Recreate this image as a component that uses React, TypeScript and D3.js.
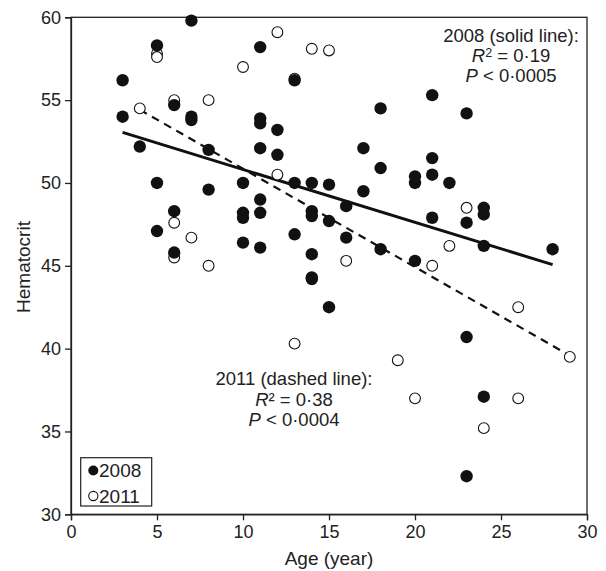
import React, { useEffect, useRef } from 'react';
import * as d3 from 'd3';

// 2008 sample (filled circles): [age, hematocrit]
const ages2008 = [3, 3, 4, 5, 5, 5, 6, 6, 6, 7, 7, 7, 8, 8, 10, 10, 10, 10, 11, 11, 11, 11, 11, 11, 11, 12, 12, 13, 13, 13, 14, 14, 14, 14, 14, 14, 15, 15, 15, 16, 16, 17, 17, 18, 18, 18, 20, 20, 20, 21, 21, 21, 21, 22, 23, 23, 23, 23, 24, 24, 24, 24, 28];
const hct2008 = [56.2, 54.0, 52.2, 58.3, 50.0, 47.1, 54.7, 48.3, 45.8, 59.8, 54.0, 53.8, 52.0, 49.6, 50.0, 48.2, 47.9, 46.4, 58.2, 53.9, 53.6, 52.1, 49.0, 48.2, 46.1, 53.2, 51.7, 56.2, 50.0, 46.9, 50.0, 48.3, 48.0, 45.7, 44.3, 44.2, 49.9, 47.7, 42.5, 48.6, 46.7, 52.1, 49.5, 54.5, 50.9, 46.0, 50.4, 50.0, 45.3, 55.3, 51.5, 50.5, 47.9, 50.0, 54.2, 47.6, 40.7, 32.3, 48.5, 48.1, 46.2, 37.1, 46.0];

// 2011 sample (open circles)
const ages2011 = [4, 5, 5, 6, 6, 6, 7, 8, 8, 10, 12, 12, 13, 13, 14, 15, 16, 19, 20, 21, 22, 23, 24, 26, 26, 29];
const hct2011 = [54.5, 57.8, 57.6, 55.0, 47.6, 45.5, 46.7, 55.0, 45.0, 57.0, 59.1, 50.5, 56.3, 40.3, 58.1, 58.0, 45.3, 39.3, 37.0, 45.0, 46.2, 48.5, 35.2, 42.5, 37.0, 39.5];

// regression lines, end points
const fit2008 = [[3, 53.05], [28, 45.07]];
const fit2011 = [[4, 54.42], [29, 39.58]];

const xTicks = [0, 5, 10, 15, 20, 25, 30];
const yTicks = [30, 35, 40, 45, 50, 55, 60];

const W = 606, H = 571;
const left = 71, right = 587, top = 17.3, bottom = 514.3;
const FONT = '"Liberation Sans", Arial, sans-serif';
const INK = '#222';

export default function App() {
	const ref = useRef<SVGSVGElement>(null);

	useEffect(() => {
		const svg = d3.select(ref.current);
		svg.selectAll('*').remove();

		const x = d3.scaleLinear().domain([0, 30]).range([left, right]);
		const y = d3.scaleLinear().domain([30, 60]).range([bottom, top]);

		// frame
		svg.append('rect')
			.attr('x', left).attr('y', top)
			.attr('width', right - left).attr('height', bottom - top)
			.attr('fill', 'none').attr('stroke', INK).attr('stroke-width', 1.3);

		// axes
		const xAxis = svg.append('g')
			.attr('transform', `translate(0,${bottom})`)
			.call(d3.axisBottom(x).tickValues(xTicks).tickSize(6).tickPadding(5));
		const yAxis = svg.append('g')
			.attr('transform', `translate(${left},0)`)
			.call(d3.axisLeft(y).tickValues(yTicks).tickSize(6).tickPadding(4));
		[xAxis, yAxis].forEach(a => {
			a.select('.domain').attr('stroke', INK).attr('stroke-width', 1.3);
			a.selectAll('line').attr('stroke', INK).attr('stroke-width', 1.3);
			a.selectAll('text').attr('fill', INK).attr('font-size', 18).attr('font-family', FONT);
		});

		// regression lines
		const line = d3.line<number[]>().x(d => x(d[0])).y(d => y(d[1]));
		svg.append('path').attr('d', line(fit2008))
			.attr('stroke', '#111').attr('stroke-width', 3).attr('fill', 'none');
		svg.append('path').attr('d', line(fit2011))
			.attr('stroke', '#111').attr('stroke-width', 2.2).attr('fill', 'none')
			.attr('stroke-dasharray', '8,6');

		// points
		svg.append('g').selectAll('circle')
			.data(d3.range(ages2011.length))
			.enter().append('circle')
			.attr('cx', i => x(ages2011[i]))
			.attr('cy', i => y(hct2011[i]))
			.attr('r', 5.4)
			.attr('fill', 'white').attr('stroke', '#111').attr('stroke-width', 1.1);
		svg.append('g').selectAll('circle')
			.data(d3.range(ages2008.length))
			.enter().append('circle')
			.attr('cx', i => x(ages2008[i]))
			.attr('cy', i => y(hct2008[i]))
			.attr('r', 6.2)
			.attr('fill', '#111');

		// axis titles
		svg.append('text')
			.attr('x', (left + right) / 2).attr('y', 565)
			.attr('text-anchor', 'middle')
			.attr('font-size', 19).attr('font-family', FONT).attr('fill', INK)
			.text('Age (year)');
		svg.append('text')
			.attr('transform', `translate(30,${267}) rotate(-90)`)
			.attr('text-anchor', 'middle')
			.attr('font-size', 19).attr('font-family', FONT).attr('fill', INK)
			.text('Hematocrit');

		// annotations
		const note = (cx, y0, head, r2, p, sup) => {
			const g = svg.append('g')
				.attr('font-size', 18.5).attr('font-family', FONT).attr('fill', INK)
				.attr('text-anchor', 'middle');
			g.append('text').attr('x', cx).attr('y', y0).text(head);
			const t2 = g.append('text').attr('x', cx).attr('y', y0 + 20.5);
			t2.append('tspan').attr('font-style', 'italic').text('R');
			if (sup) {
				t2.append('tspan').attr('font-size', 12.5).attr('dy', -5.5).text('2');
				t2.append('tspan').attr('dy', 5.5).text(' = ' + r2);
			} else {
				t2.append('tspan').text('² = ' + r2);
			}
			const t3 = g.append('text').attr('x', cx).attr('y', y0 + 40.5);
			t3.append('tspan').attr('font-style', 'italic').text('P');
			t3.append('tspan').text(' < ' + p);
		};
		note(511, 41.5, '2008 (solid line):', '0·19', '0·0005', true);
		note(294, 385, '2011 (dashed line):', '0·38', '0·0004', false);

		// legend
		const lg = svg.append('g');
		lg.append('rect')
			.attr('x', 80.7).attr('y', 457.7).attr('width', 71).attr('height', 48.3)
			.attr('fill', 'white').attr('stroke', INK).attr('stroke-width', 1.2);
		lg.append('circle').attr('cx', 93.3).attr('cy', 470.5).attr('r', 5).attr('fill', '#111');
		lg.append('circle').attr('cx', 93.3).attr('cy', 496).attr('r', 4.6)
			.attr('fill', 'white').attr('stroke', '#111').attr('stroke-width', 1.1);
		lg.selectAll('text.lab')
			.data(['2008', '2011'])
			.enter().append('text')
			.attr('x', 99).attr('y', (d, i) => 477 + i * 25.5)
			.attr('font-size', 19).attr('font-family', FONT).attr('fill', INK)
			.text(d => d);
	}, []);

	return (
		<div style={{ position: 'absolute', left: 0, top: 0 }}>
			<svg ref={ref} width={W} height={H} style={{ display: 'block', background: 'white' }} />
		</div>
	);
}
